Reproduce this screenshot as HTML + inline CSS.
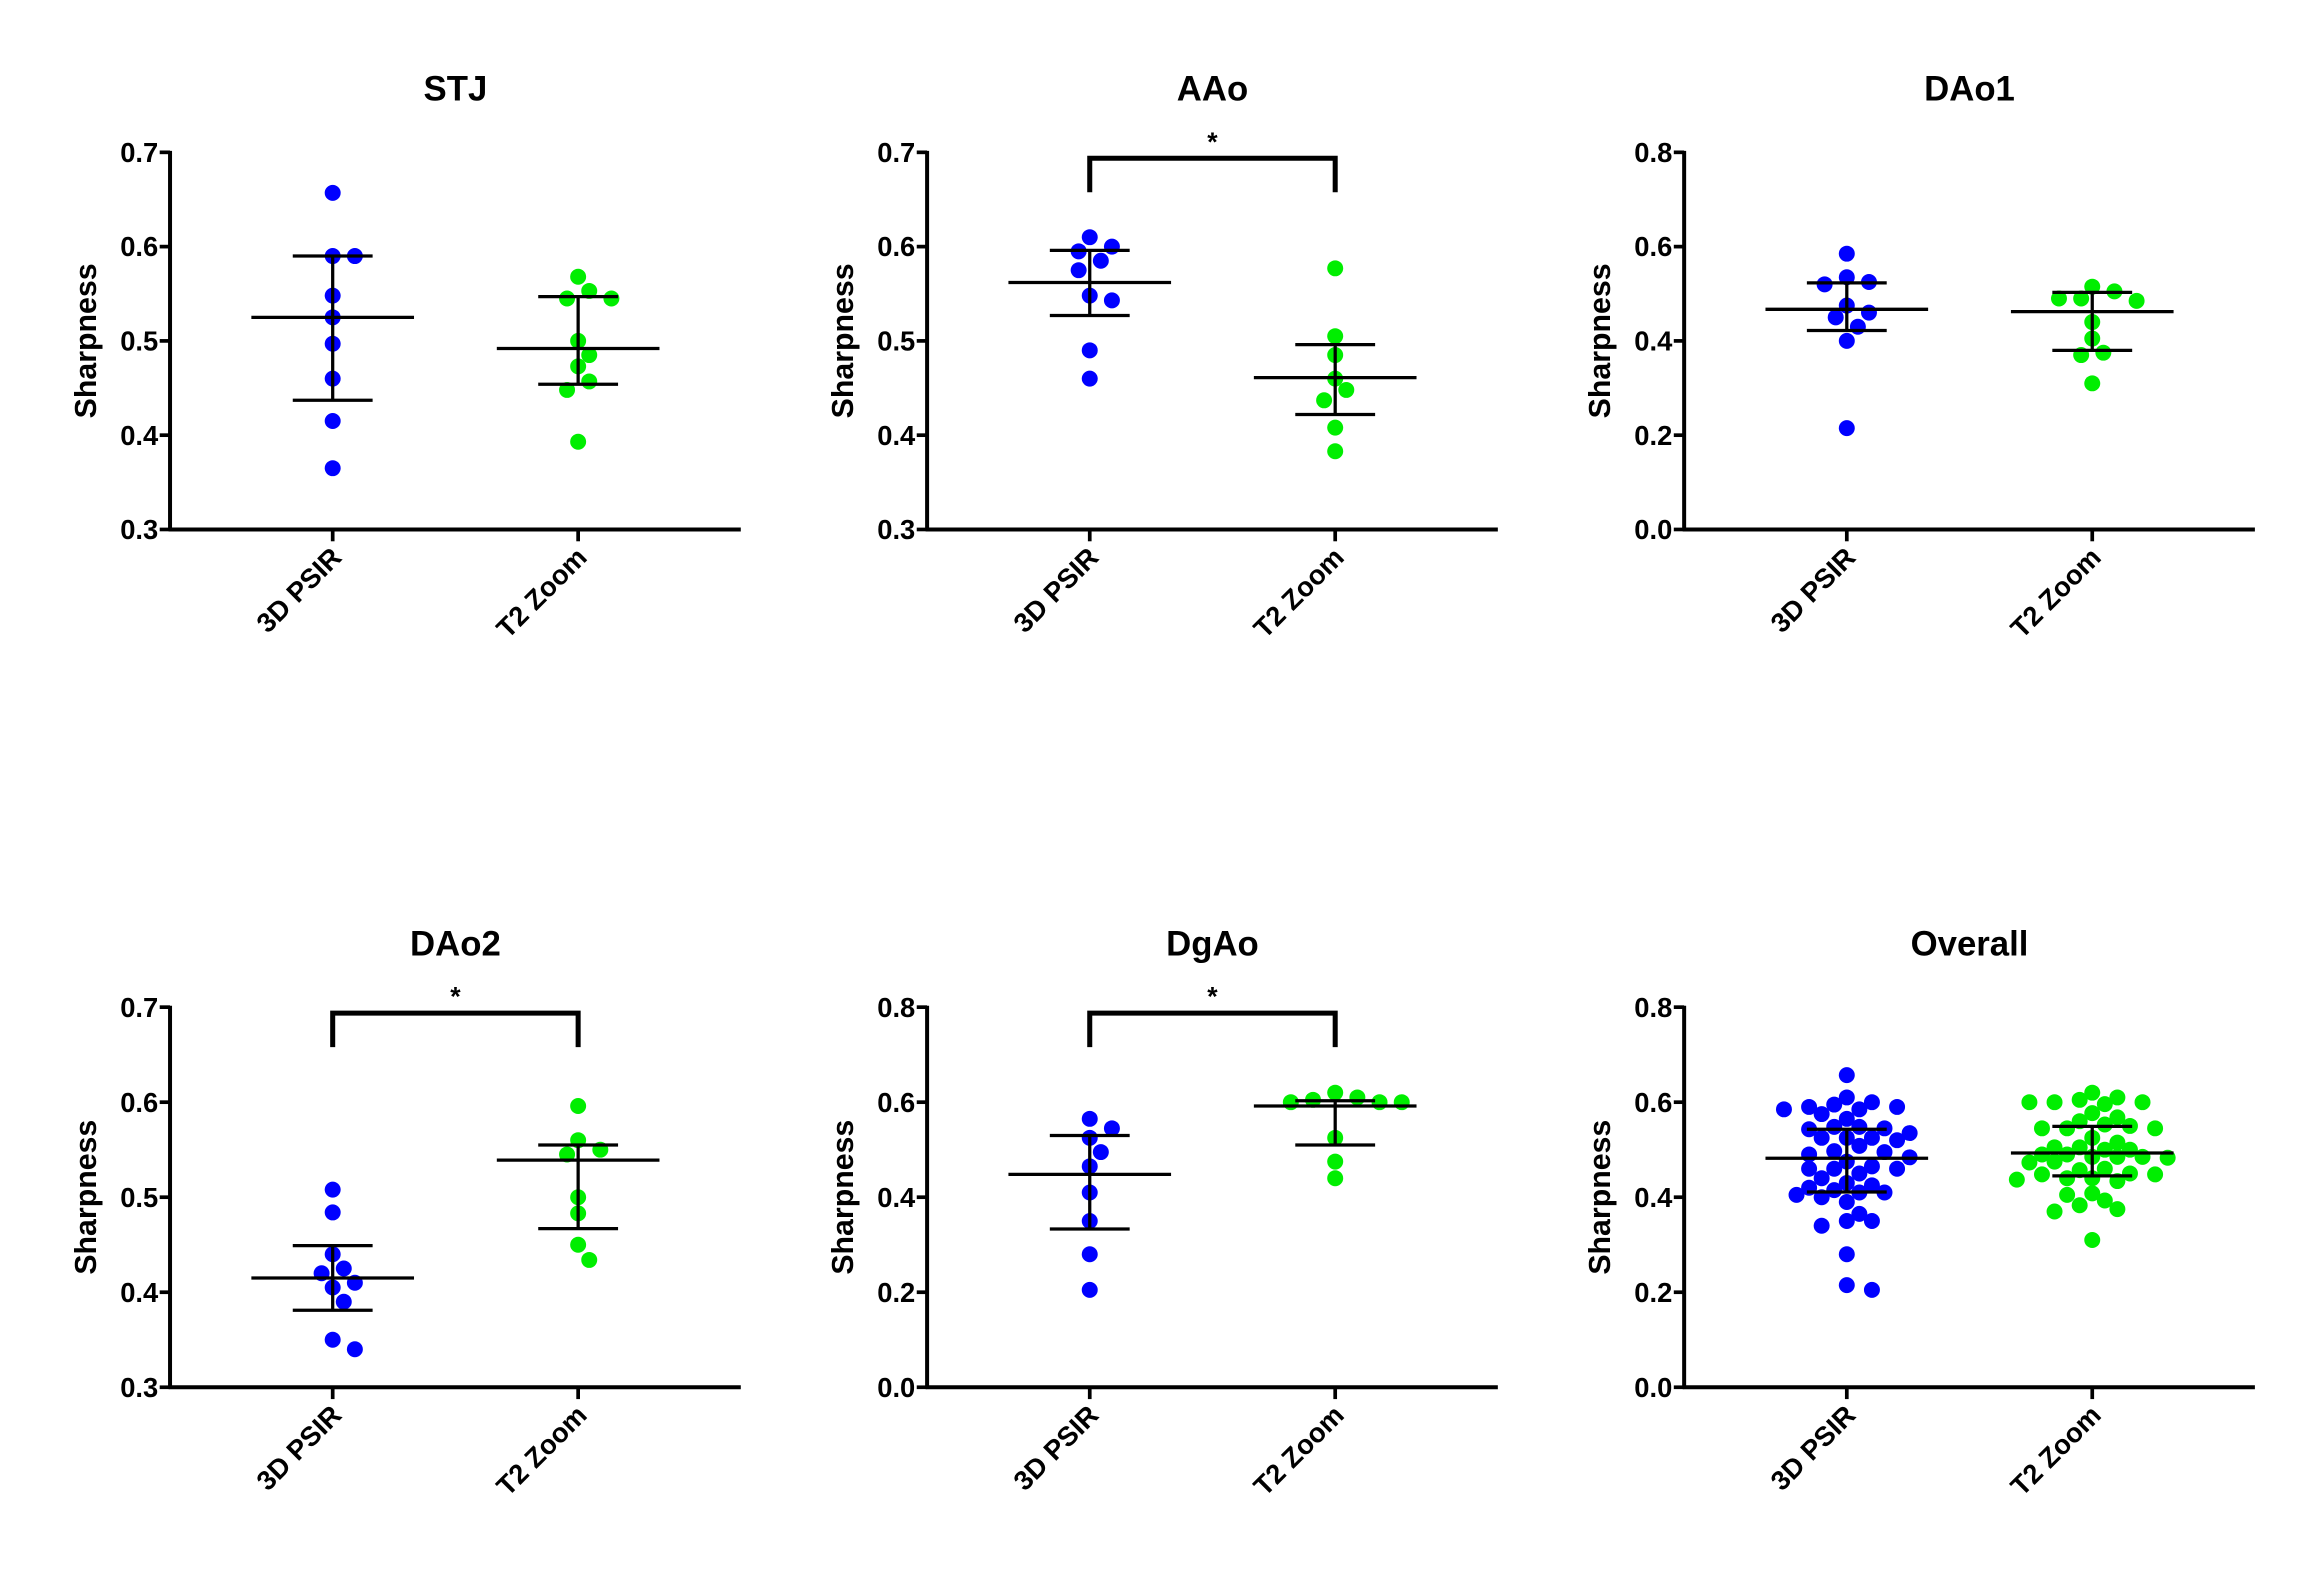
<!DOCTYPE html>
<html><head><meta charset="utf-8"><style>
html,body{margin:0;padding:0;background:#fff;}
svg{display:block;font-family:"Liberation Sans",Arial,sans-serif;}
</style></head><body>
<svg id="fig" width="2317" height="1581" viewBox="0 0 1567 1069" preserveAspectRatio="none" xmlns="http://www.w3.org/2000/svg"></svg>
<script>
const panelTitles = ["STJ","AAo","DAo1","DAo2","DgAo","Overall"];
const categories = ["3D PSIR","T2 Zoom"];
const yMinVals = [0.3,0.3,0.0,0.3,0.0,0.0];
const yMaxVals = [0.7,0.7,0.8,0.7,0.8,0.8];
const yStepVals = [0.1,0.1,0.2,0.1,0.2,0.2];
const sigFlags = [false,true,false,true,true,false];
const psirSTJ = [0.657,0.59,0.59,0.548,0.525,0.497,0.46,0.415,0.365];
const t2STJ = [0.568,0.553,0.545,0.545,0.5,0.485,0.473,0.457,0.448,0.393];
const psirAAo = [0.61,0.6,0.595,0.585,0.575,0.548,0.543,0.49,0.46];
const t2AAo = [0.577,0.505,0.485,0.46,0.448,0.437,0.408,0.383];
const psirDAo1 = [0.585,0.535,0.525,0.52,0.475,0.46,0.45,0.43,0.40,0.215];
const t2DAo1 = [0.515,0.505,0.49,0.49,0.485,0.44,0.405,0.375,0.37,0.31];
const psirDAo2 = [0.508,0.484,0.44,0.425,0.42,0.41,0.405,0.39,0.35,0.34];
const t2DAo2 = [0.596,0.56,0.55,0.545,0.5,0.483,0.45,0.434];
const psirDgAo = [0.565,0.545,0.525,0.495,0.465,0.41,0.35,0.28,0.205];
const t2DgAo = [0.62,0.61,0.605,0.6,0.6,0.6,0.525,0.475,0.44];
const psirOverall = psirSTJ.concat(psirAAo,psirDAo1,psirDAo2,psirDgAo);
const t2Overall = t2STJ.concat(t2AAo,t2DAo1,t2DAo2,t2DgAo);
const meanPsir = [0.525,0.562,0.467,0.415,0.448,0.482];
const upperPsir = [0.59,0.596,0.523,0.449,0.53,0.543];
const lowerPsir = [0.437,0.527,0.422,0.381,0.333,0.411];
const meanT2 = [0.492,0.461,0.462,0.539,0.592,0.493];
const upperT2 = [0.547,0.496,0.503,0.555,0.603,0.549];
const lowerT2 = [0.454,0.422,0.38,0.467,0.51,0.445];

const psirSets=[psirSTJ,psirAAo,psirDAo1,psirDAo2,psirDgAo,psirOverall];
const t2Sets=[t2STJ,t2AAo,t2DAo1,t2DAo2,t2DgAo,t2Overall];
const svg=document.getElementById('fig');
const NS='http://www.w3.org/2000/svg';
function el(tag,attrs,parent,txt){const e=document.createElementNS(NS,tag);for(const k in attrs)e.setAttribute(k,attrs[k]);if(txt!==undefined)e.textContent=txt;parent.appendChild(e);return e;}
const colX=[115,627,1139], rowTop=[103,681], rowBot=[358,938], axLen=386;
const tickOff=[110,276];
for(let p=0;p<6;p++){
  const ax=colX[p%3], top=rowTop[Math.floor(p/3)], bot=rowBot[Math.floor(p/3)];
  const g=el('g',{},svg);
  
  
  const y=v=>bot-(v-yMinVals[p])/(yMaxVals[p]-yMinVals[p])*(bot-top);
  const x=i=>ax+tickOff[i];
  const t=el('text',{x:ax+193,y:top-35,'text-anchor':'middle','font-size':23.5,'font-weight':'bold'},g,panelTitles[p]);
  
  
  const yl=el('text',{transform:`translate(${ax-50},${(top+bot)/2}) rotate(-90)`,'text-anchor':'middle','font-size':20.5,'font-weight':'bold'},g,'Sharpness');
  
  
  el('line',{x1:ax,y1:top-1,x2:ax,y2:bot,stroke:'#000','stroke-width':2.7},g);
  el('line',{x1:ax-1,y1:bot,x2:ax+axLen,y2:bot,stroke:'#000','stroke-width':2.7},g);
  const n=Math.round((yMaxVals[p]-yMinVals[p])/yStepVals[p]);
  for(let k=0;k<=n;k++){const v=yMinVals[p]+k*yStepVals[p];const yy=y(v);
    el('line',{x1:ax-7,y1:yy,x2:ax,y2:yy,stroke:'#000','stroke-width':2.5},g);
    const tl=el('text',{x:ax-8,y:yy+6.5,'text-anchor':'end','font-size':18.5,'font-weight':'bold'},g,v.toFixed(1));
    
    
  }
  for(let i=0;i<2;i++){
    el('line',{x1:x(i),y1:bot,x2:x(i),y2:bot+8,stroke:'#000','stroke-width':2.5},g);
    const cl=el('text',{transform:`translate(${x(i)+7},${bot+20}) rotate(-45)`,'text-anchor':'end','font-size':18.5,'font-weight':'bold'},g,categories[i]);
    
    
  }
  const sets=[psirSets[p],t2Sets[p]], cols=['#0000ff','#00ee00'];
  const means=[meanPsir[p],meanT2[p]], ups=[upperPsir[p],upperT2[p]], los=[lowerPsir[p],lowerT2[p]];
  const isOverall = p===5;
  for(let i=0;i<2;i++){
    const vals=sets[i].slice().sort((a,b)=>b-a), placed=[];
    const step=isOverall?8.5:7.5, minD=isOverall?9.5:10.6;
    vals.forEach(v=>{const yy=y(v);let cx=x(i);
      const cands=[0];for(let k=1;k<30;k++){cands.push(k*step,-k*step);}
      for(const c of cands){const px=x(i)+c;if(placed.every(q=>Math.hypot(q[0]-px,q[1]-yy)>=minD)){cx=px;break;}}
      placed.push([cx,yy]);
      const d=el('circle',{cx:cx,cy:yy,r:5.4,fill:cols[i]},g);
      
      
    });
    const eg=el('g',{stroke:'#000','stroke-width':2.2},g);
    
    
    el('line',{x1:x(i)-55,y1:y(means[i]),x2:x(i)+55,y2:y(means[i])},eg);
    el('line',{x1:x(i),y1:y(ups[i]),x2:x(i),y2:y(los[i])},eg);
    el('line',{x1:x(i)-27,y1:y(ups[i]),x2:x(i)+27,y2:y(ups[i])},eg);
    el('line',{x1:x(i)-27,y1:y(los[i]),x2:x(i)+27,y2:y(los[i])},eg);
  }
  if(sigFlags[p]){
    const by=top+4;
    const br=el('path',{d:`M${x(0)} ${by+23} V${by} H${x(1)} V${by+23}`,fill:'none',stroke:'#000','stroke-width':3.4},g);
    
    
    const st=el('text',{x:(x(0)+x(1))/2,y:by-5,'text-anchor':'middle','font-size':18,'font-weight':'bold'},g,'*');
    
    
  }
}
</script>
</body></html>
